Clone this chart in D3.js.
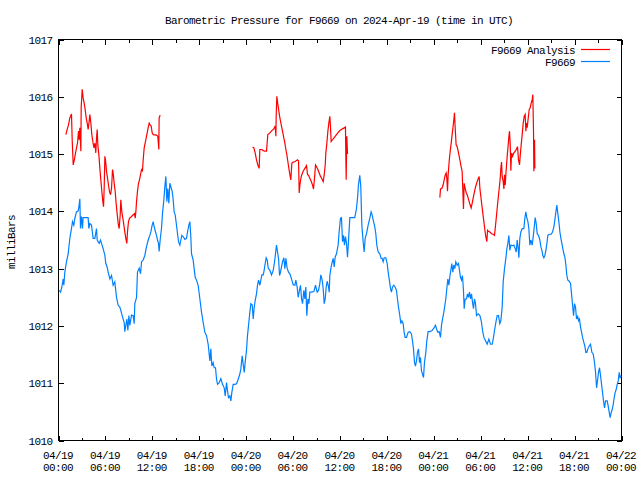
<!DOCTYPE html>
<html><head><meta charset="utf-8">
<script src="https://cdn.jsdelivr.net/npm/d3@7"></script>
<style>
body{margin:0;background:#fff}
text{font-family:"Liberation Mono","DejaVu Sans Mono",monospace;font-size:11px;letter-spacing:-0.6px;fill:#000}
</style>
</head><body><svg id="c" width="640" height="480"></svg>
<script>
const chartTitle = "Barometric Pressure for F9669 on 2024-Apr-19 (time in UTC)";
const yAxisLabel = "milliBars";
const seriesNames = ["F9669 Analysis", "F9669"];
const seriesColors = ["#ff0000", "#0080ff"];
const xTickHours = [0,6,12,18,24,30,36,42,48,54,60,66,72];
const xMinorHours = [3,9,15,21,27,33,39,45,51,57,63,69];
const xTickDates = ["04/19","04/19","04/19","04/19","04/20","04/20","04/20","04/20","04/21","04/21","04/21","04/21","04/22"];
const xTickTimes = ["00:00","06:00","12:00","18:00","00:00","06:00","12:00","18:00","00:00","06:00","12:00","18:00","00:00"];
const yTicks = [1010,1011,1012,1013,1014,1015,1016,1017];

// F9669 station observations (hours since 2024-04-19 00:00 UTC, mb)
const stationHours = [0.10,0.26,0.43,0.60,0.68,0.81,1.02,1.24,1.45,1.66,1.79,1.96,2.09,2.30,2.52,2.64,2.73,2.81,2.94,3.07,3.15,3.37,3.79,3.88,4.01,4.22,4.43,4.65,4.86,4.95,5.20,5.37,5.50,5.71,5.93,6.05,6.22,6.35,6.57,6.78,6.99,7.20,7.42,7.63,7.84,7.97,8.14,8.27,8.40,8.48,8.61,8.74,8.87,9.00,9.12,9.34,9.55,9.68,9.76,9.98,10.10,10.32,10.49,10.62,10.83,11.04,11.25,11.47,11.68,11.81,11.98,12.11,12.24,12.41,12.53,12.66,12.79,12.87,13.00,13.17,13.30,13.47,13.60,13.73,13.86,13.98,14.11,14.24,14.37,14.54,14.67,14.79,14.92,15.09,15.22,15.35,15.52,15.65,15.77,15.94,16.16,16.37,16.50,16.67,16.80,16.92,17.01,17.22,17.35,17.48,17.65,
17.86,18.08,18.29,18.50,18.72,18.93,19.14,19.36,19.48,19.61,19.78,19.91,20.08,20.21,20.34,20.55,20.76,20.98,21.19,21.32,21.49,21.61,21.74,21.91,22.04,22.17,22.34,22.55,22.77,22.98,23.19,23.32,23.49,23.62,23.75,23.87,24.04,24.17,24.34,24.47,24.60,24.77,24.90,25.03,25.15,25.32,25.45,25.58,25.75,25.88,26.01,26.18,26.30,26.43,26.56,26.69,26.82,27.03,27.24,27.46,27.63,27.75,27.88,28.01,28.14,28.27,28.39,28.52,28.65,28.82,28.95,29.08,29.25,29.42,29.59,29.80,30.01,30.23,30.35,30.52,30.65,30.78,30.95,31.08,31.21,31.38,31.51,31.63,31.76,31.89,32.02,32.14,32.36,32.66,32.87,33.08,33.25,33.42,33.55,33.72,33.85,33.98,34.11,34.23,34.36,34.53,34.62,34.70,34.83,34.96,35.13,35.26,35.38,35.55,
35.76,35.89,36.06,36.19,36.32,36.45,36.57,36.70,36.83,36.96,37.08,37.26,37.47,37.89,38.11,38.24,38.36,38.53,38.66,38.79,38.96,39.09,39.22,39.39,39.60,39.81,39.98,40.11,40.24,40.45,40.58,40.71,40.88,41.09,41.26,41.39,41.52,41.65,41.86,42.03,42.16,42.29,42.46,42.58,42.71,42.88,43.05,43.22,43.35,43.48,43.65,43.78,43.91,44.08,44.20,44.33,44.50,44.72,44.93,45.14,45.27,45.40,45.53,45.65,45.78,45.91,46.04,46.17,46.29,46.42,46.55,46.68,46.80,46.98,47.10,47.27,47.49,47.78,48.00,48.21,48.34,48.51,48.68,48.85,48.98,49.11,49.28,49.41,49.53,49.66,49.79,49.92,50.04,50.17,50.30,50.43,50.56,50.68,50.81,50.98,51.15,51.28,51.41,51.54,51.66,51.79,51.88,52.01,52.18,52.30,52.43,52.56,52.69,52.82,52.94,53.07,53.20,53.33,53.46,
53.67,53.89,54.06,54.23,54.40,54.61,54.82,55.04,55.25,55.46,55.59,55.76,55.93,56.10,56.27,56.44,56.57,56.74,56.87,57.04,57.21,57.34,57.47,57.60,57.72,57.85,58.06,58.23,58.41,58.53,58.66,58.79,58.87,59.00,59.13,59.30,59.51,59.64,59.77,59.90,60.03,60.15,60.28,60.41,60.58,60.71,60.84,60.96,61.09,61.22,61.39,61.56,61.69,61.82,61.94,62.07,62.20,62.33,62.46,62.58,62.75,63.01,63.18,63.35,63.48,63.61,63.73,63.86,63.99,64.12,64.25,64.37,64.50,64.63,64.76,64.89,65.01,65.14,65.31,65.48,65.61,65.74,65.87,65.99,66.12,66.25,66.38,66.51,66.63,66.76,66.89,67.02,67.19,67.31,67.44,67.57,67.70,67.87,68.04,68.21,68.38,68.55,68.68,68.81,68.93,69.06,69.19,69.32,69.45,69.57,69.70,69.83,69.96,70.17,70.30,70.43,70.55,70.68,70.81,70.94,71.07,71.19,71.32,71.45,71.58,71.71,71.83,71.96];
const stationPressure = [1012.62,1012.59,1012.68,1012.82,1012.71,1012.94,1013.12,1013.26,1013.53,1013.70,1013.82,1013.76,1013.88,1013.99,1014.01,1014.11,1014.22,1013.70,1013.91,1013.70,1013.89,1013.89,1013.89,1013.70,1013.79,1013.76,1013.53,1013.53,1013.70,1013.50,1013.44,1013.50,1013.44,1013.35,1013.23,1013.09,1013.03,1012.94,1012.82,1012.88,1012.71,1012.77,1012.50,1012.36,1012.33,1012.27,1012.18,1012.12,1012.06,1011.90,1012.01,1012.12,1011.92,1012.18,1012.01,1012.19,1012.18,1012.04,1012.39,1012.50,1012.94,1013.01,1012.91,1013.12,1013.15,1013.23,1013.38,1013.50,1013.58,1013.64,1013.76,1013.82,1013.73,1013.64,1013.58,1013.50,1013.44,1013.30,1013.50,1013.70,1013.96,1014.20,1014.43,1014.61,1014.17,1014.40,1014.14,1014.49,1014.43,1014.35,1014.20,1013.99,1013.94,1013.76,1013.61,1013.47,1013.41,1013.50,1013.58,1013.56,1013.51,1013.53,1013.64,1013.76,1013.82,1013.56,1013.26,1013.15,1013.00,1012.85,1012.80,
1012.71,1012.47,1012.24,1012.06,1011.89,1011.83,1011.68,1011.39,1011.60,1011.30,1011.36,1011.27,1011.27,1011.07,1010.98,1011.01,1011.08,1010.98,1010.92,1010.78,1011.01,1010.87,1010.75,1010.78,1010.69,1010.84,1010.98,1010.98,1010.99,1011.07,1011.16,1011.25,1011.48,1011.33,1011.19,1011.36,1011.57,1011.83,1012.06,1012.24,1012.39,1012.37,1012.12,1012.33,1012.44,1012.56,1012.71,1012.80,1012.71,1012.80,1012.89,1012.89,1012.97,1013.09,1013.19,1013.15,1013.01,1012.97,1012.89,1012.97,1013.12,1013.26,1013.41,1013.29,1013.18,1012.88,1012.94,1013.03,1013.12,1013.19,1013.00,1013.18,1013.00,1012.94,1012.91,1012.82,1012.72,1012.71,1012.80,1012.68,1012.50,1012.60,1012.71,1012.47,1012.39,1012.62,1012.47,1012.68,1012.18,1012.47,1012.39,1012.59,1012.59,1012.60,1012.71,1012.59,1012.62,1012.74,1012.89,1012.80,1012.65,1012.39,1012.47,1012.68,1012.78,1012.68,1012.59,1012.88,1013.00,1013.09,1013.18,1013.03,1013.20,1013.26,
1013.41,1013.64,1013.88,1013.89,1013.47,1013.58,1013.41,1013.56,1013.44,1013.20,1013.47,1013.89,1013.89,1013.89,1014.05,1014.23,1014.46,1014.63,1014.43,1013.76,1013.47,1013.29,1013.53,1013.61,1013.76,1013.88,1013.99,1013.94,1013.85,1013.73,1013.61,1013.41,1013.29,1013.26,1013.18,1013.18,1013.12,1013.19,1013.19,1013.09,1012.94,1012.82,1012.65,1012.59,1012.68,1012.71,1012.68,1012.62,1012.47,1012.33,1012.18,1012.04,1012.09,1012.04,1011.89,1011.80,1011.80,1011.89,1011.90,1011.86,1011.74,1011.60,1011.36,1011.30,1011.39,1011.54,1011.60,1011.36,1011.45,1011.22,1011.16,1011.10,1011.36,1011.54,1011.74,1011.90,1011.90,1011.92,1011.96,1012.01,1011.95,1011.89,1011.90,1011.80,1012.01,1012.12,1012.24,1012.36,1012.47,1012.65,1012.82,1012.71,1012.85,1012.97,1013.09,1012.94,1013.06,1013.00,1013.12,1013.06,1013.09,1012.97,1012.85,1012.80,1012.88,1012.62,1012.30,1012.47,1012.47,1012.56,1012.50,1012.59,1012.47,1012.56,1012.42,1012.30,1012.47,1012.39,1012.18,
1012.21,1012.18,1012.09,1011.92,1011.80,1011.74,1011.68,1011.77,1011.68,1011.68,1011.77,1011.92,1012.06,1012.18,1012.18,1012.04,1012.09,1012.33,1012.77,1013.00,1013.18,1013.35,1013.44,1013.58,1013.32,1013.41,1013.40,1013.41,1013.35,1013.29,1013.50,1013.35,1013.19,1013.53,1013.64,1013.70,1013.70,1013.88,1013.99,1013.88,1013.82,1013.70,1013.41,1013.50,1013.41,1013.56,1013.73,1013.89,1013.79,1013.61,1013.58,1013.50,1013.38,1013.32,1013.23,1013.19,1013.23,1013.32,1013.44,1013.58,1013.60,1013.60,1013.64,1013.73,1013.85,1013.99,1014.11,1013.96,1013.82,1013.64,1013.53,1013.44,1013.35,1013.26,1013.20,1013.06,1012.88,1012.80,1012.78,1012.74,1012.56,1012.36,1012.18,1012.39,1012.33,1012.12,1012.18,1012.09,1012.12,1011.98,1011.89,1011.80,1011.71,1011.65,1011.54,1011.54,1011.60,1011.65,1011.68,1011.54,1011.51,1011.36,1011.19,1010.92,1011.04,1011.19,1011.27,1011.13,1010.98,1010.84,1010.69,1010.57,1010.69,1010.69,1010.60,1010.49,1010.40,1010.49,1010.54,1010.63,1010.75,1010.84,1010.89,1010.98,1011.04,1011.19,1011.10,1011.13];

// F9669 Analysis (null = no analysis available)
const analysisHours = [0.94,1.11,1.28,1.45,1.66,1.75,1.88,2.00,2.13,2.30,2.43,2.56,2.64,2.73,2.86,2.90,3.03,3.15,3.28,3.41,3.54,3.67,3.79,3.92,4.01,4.14,4.26,4.39,4.52,4.65,4.77,4.86,4.95,5.03,5.16,5.29,5.41,5.54,5.67,5.76,5.84,5.93,6.01,6.14,6.27,6.39,6.52,6.65,6.78,6.91,6.99,7.12,7.25,7.37,7.50,7.63,7.76,7.89,7.97,8.10,8.23,8.36,8.48,8.61,8.74,8.82,8.95,9.08,9.34,9.55,9.72,9.81,9.89,9.98,10.10,10.23,10.36,10.49,10.62,10.74,10.83,10.96,11.08,11.21,11.34,11.47,11.60,11.72,11.85,11.98,12.11,12.53,12.70,12.75,12.83,12.87,13.00,
18.0,
24.81,24.98,25.15,25.32,25.49,25.66,25.75,26.01,26.18,26.39,26.60,26.77,27.03,27.28,27.54,27.71,27.80,27.84,27.92,28.05,28.18,28.31,28.44,28.56,28.69,28.82,28.95,29.08,29.20,29.33,29.46,29.59,29.71,29.84,30.01,30.27,30.57,30.70,30.78,30.87,31.00,31.12,31.29,31.51,31.72,31.85,31.97,32.14,32.32,32.49,32.61,32.74,32.87,33.00,33.17,33.34,33.51,33.68,33.85,33.98,34.11,34.19,34.32,34.45,34.57,34.70,34.79,34.87,35.04,35.21,35.38,35.55,35.72,35.98,36.32,36.70,36.74,36.79,36.87,36.96,
42.0,
48.77,48.85,49.02,49.19,49.32,49.45,49.58,49.66,49.75,49.83,49.96,50.09,50.22,50.34,50.47,50.56,50.64,50.73,50.85,50.98,51.11,51.24,51.37,51.49,51.62,51.71,51.79,51.88,52.01,52.13,52.26,52.39,52.52,52.65,52.77,52.90,53.03,53.16,53.29,53.41,53.54,53.67,53.80,53.89,54.01,54.14,54.27,54.40,54.53,54.65,54.78,54.87,54.99,55.17,55.38,55.59,55.76,55.85,55.98,56.10,56.23,56.36,56.49,56.57,56.66,56.74,56.87,56.96,57.04,57.13,57.21,57.30,57.38,57.51,57.60,57.68,57.77,57.85,57.94,58.06,58.23,58.41,58.58,58.70,58.83,58.96,59.04,59.17,59.30,59.43,59.56,59.68,59.77,59.85,59.94,60.07,60.20,60.32,60.45,60.58,60.66,60.75,60.79,60.88,60.92];
const analysisPressure = [1015.34,1015.43,1015.51,1015.63,1015.70,1015.25,1014.81,1014.88,1014.98,1015.11,1015.19,1015.40,1015.25,1015.46,1015.05,1015.81,1016.13,1015.98,1015.89,1015.78,1015.63,1015.54,1015.43,1015.57,1015.69,1015.54,1015.34,1015.22,1015.11,1015.19,1015.02,1015.28,1015.43,1015.16,1014.99,1014.75,1014.55,1014.35,1014.17,1014.08,1014.40,1014.96,1014.90,1014.70,1014.58,1014.46,1014.35,1014.29,1014.40,1014.73,1014.67,1014.49,1014.35,1014.14,1013.96,1013.79,1013.70,1013.94,1014.20,1013.99,1013.88,1013.76,1013.64,1013.53,1013.44,1013.64,1013.82,1013.88,1013.91,1013.94,1013.96,1013.88,1013.99,1014.17,1014.35,1014.49,1014.55,1014.64,1014.73,1014.71,1014.90,1015.11,1015.19,1015.28,1015.37,1015.46,1015.54,1015.51,1015.49,1015.37,1015.34,1015.33,1015.31,1015.22,1015.08,1015.63,1015.68,
null,
1015.12,1015.11,1015.02,1014.90,1014.81,1014.75,1015.08,1015.08,1015.06,1015.05,1015.05,1015.34,1015.37,1015.41,1015.44,1015.49,1015.31,1015.66,1016.01,1015.87,1015.75,1015.63,1015.54,1015.46,1015.37,1015.28,1015.19,1015.08,1014.99,1014.87,1014.75,1014.64,1014.55,1014.84,1014.86,1014.87,1014.90,1014.88,1014.32,1014.46,1014.58,1014.64,1014.70,1014.75,1014.80,1014.64,1014.63,1014.58,1014.52,1014.46,1014.39,1014.58,1014.81,1014.78,1014.73,1014.67,1014.61,1014.57,1014.52,1014.64,1014.81,1015.02,1015.19,1015.40,1015.54,1015.66,1015.46,1015.22,1015.25,1015.28,1015.31,1015.34,1015.37,1015.41,1015.44,1015.47,1015.02,1014.55,1015.31,1015.00,
null,
1014.24,1014.39,1014.40,1014.46,1014.55,1014.63,1014.67,1014.58,1014.35,1014.64,1014.87,1015.05,1015.19,1015.34,1015.49,1015.60,1015.72,1015.46,1015.16,1015.13,1015.05,1014.96,1014.87,1014.78,1014.70,1014.35,1014.04,1014.49,1014.40,1014.33,1014.29,1014.23,1014.17,1014.11,1014.06,1014.14,1014.23,1014.32,1014.40,1014.46,1014.52,1014.57,1014.61,1014.40,1014.26,1014.11,1013.96,1013.82,1013.67,1013.56,1013.47,1013.67,1013.65,1013.64,1013.61,1013.60,1013.58,1013.70,1013.88,1014.05,1014.23,1014.40,1014.58,1014.75,1014.86,1014.61,1014.52,1014.39,1014.64,1014.46,1014.64,1014.81,1014.96,1015.16,1015.31,1015.40,1015.16,1014.71,1015.02,1014.96,1015.02,1015.05,1015.09,1015.13,1014.90,1014.81,1014.96,1015.16,1015.34,1015.54,1015.66,1015.69,1015.40,1015.54,1015.46,1015.63,1015.78,1015.81,1015.89,1015.95,1016.04,1015.37,1014.70,1015.25,1014.75];

const svg = d3.select("#c");
const L = 58.5, R = 621.5, T = 39.5, B = 440.5;
const x = d3.scaleLinear().domain([0, 72]).range([L, R]);
const y = d3.scaleLinear().domain([1010, 1017]).range([B, T]);

// title
svg.append("text").attr("x", 339).attr("y", 24).attr("text-anchor", "middle").text(chartTitle);
// y label
svg.append("text").attr("transform", "translate(15,242) rotate(-90)").attr("text-anchor", "middle").text(yAxisLabel);

// axes with inward ticks
const ax = svg.append("g").attr("class", "axes");
const bottom = ax.append("g").attr("transform", `translate(0,${B})`)
  .call(d3.axisBottom(x).tickValues(xTickHours).tickSize(-5).tickSizeOuter(0).tickFormat(""));
ax.append("g").attr("transform", `translate(0,${B})`)
  .call(d3.axisBottom(x).tickValues(xMinorHours).tickSize(-3).tickSizeOuter(0).tickFormat(""));
ax.append("g").attr("transform", `translate(0,${T})`)
  .call(d3.axisTop(x).tickValues(xTickHours).tickSize(-5).tickSizeOuter(0).tickFormat(""));
ax.append("g").attr("transform", `translate(0,${T})`)
  .call(d3.axisTop(x).tickValues(xMinorHours).tickSize(-3).tickSizeOuter(0).tickFormat(""));
const left = ax.append("g").attr("transform", `translate(${L},0)`)
  .call(d3.axisLeft(y).tickValues(yTicks).tickSize(-5).tickSizeOuter(0).tickFormat(d3.format("d")));
ax.append("g").attr("transform", `translate(${R},0)`)
  .call(d3.axisRight(y).tickValues(yTicks).tickSize(-5).tickSizeOuter(0).tickFormat(""));
ax.selectAll("path.domain").remove();
ax.selectAll("line").attr("stroke", "#000").attr("shape-rendering", "crispEdges");
left.selectAll("text").attr("x", -6).attr("dy", "0.32em").style("font-family", null).style("font-size", null)
  .attr("font-family", null).attr("font-size", null).attr("fill", "#000");
left.attr("font-family", null).attr("font-size", null);
bottom.attr("font-family", null).attr("font-size", null);
left.selectAll(".tick text").attr("x", -6);

// two-line x tick labels
bottom.selectAll(".tick").each(function(d, i) {
  const g = d3.select(this);
  g.select("text").remove();
  const t = g.append("text").attr("text-anchor", "middle").attr("fill", "#000");
  t.append("tspan").attr("x", -1).attr("y", 18).text(xTickDates[i]);
  t.append("tspan").attr("x", -1).attr("y", 30).text(xTickTimes[i]);
});

// frame
svg.append("rect").attr("x", L).attr("y", T).attr("width", R - L).attr("height", B - T)
  .attr("fill", "none").attr("stroke", "#000").attr("shape-rendering", "crispEdges");

// series
const station = stationHours.map((h, i) => ({h, p: stationPressure[i]}));
const analysis = analysisHours.map((h, i) => ({h, p: analysisPressure[i]}));
const line = d3.line().defined(d => d.p !== null).x(d => x(d.h)).y(d => y(d.p));
svg.append("path").datum(analysis).attr("d", line).attr("fill", "none")
  .attr("stroke", seriesColors[0]).attr("stroke-width", 1.2);
svg.append("path").datum(station).attr("d", line).attr("fill", "none")
  .attr("stroke", seriesColors[1]).attr("stroke-width", 1.2);

// legend
const legend = svg.append("g");
seriesNames.forEach((name, i) => {
  const ly = 49.5 + i * 12;
  legend.append("text").attr("x", 575).attr("y", ly + 4).attr("text-anchor", "end").text(name);
  legend.append("line").attr("x1", 581).attr("x2", 610).attr("y1", ly).attr("y2", ly)
    .attr("stroke", seriesColors[i]).attr("stroke-width", 1.2);
});
</script>
</body></html>
